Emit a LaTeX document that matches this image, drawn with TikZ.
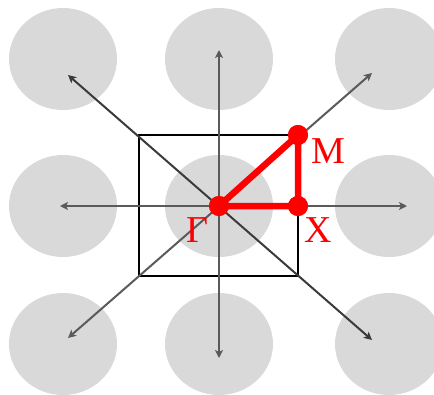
\documentclass[tikz,border=0pt]{standalone}
\usepackage{fontspec}
\setmainfont{Liberation Serif}
\usetikzlibrary{arrows.meta}
\definecolor{blob}{HTML}{D9D9D9}
\definecolor{axisgrey}{HTML}{5A5A5A}
\definecolor{axisdark}{HTML}{3A3A3A}
\definecolor{kred}{HTML}{FF0000}
\tikzset{
  site/.style={fill=blob, draw=none},
  vec/.style={line width=2pt, draw=axisgrey, {Stealth[length=8pt,width=8pt,inset=2pt]}-{Stealth[length=8pt,width=8pt,inset=2pt]}},
  vecdark/.style={vec, draw=axisdark},
  zone/.style={draw=black, line width=1.7pt},
  kpath/.style={draw=kred, line width=6.5pt},
  kpt/.style={circle, fill=kred, inner sep=0pt, minimum size=20pt},
  klabel/.style={text=kred, font=\fontsize{38}{40}\selectfont, anchor=base, inner sep=0pt}
}
\begin{document}
\begin{tikzpicture}[x=1pt,y=-1pt]
\useasboundingbox (0,0) rectangle (434,394);
\begin{scope}
\clip (0,0) rectangle (434,394);
\foreach \cx in {63,219,389}{
  \foreach \cy in {59,206,344}{
    \fill[site] (\cx,\cy) ellipse [x radius=54, y radius=51];
  }
}
\end{scope}
% zone square
\draw[zone] (139,135) rectangle (298,276);
% axes
\coordinate (T) at (219,50);
\coordinate (B) at (219,358);
\coordinate (L) at (60,206);
\coordinate (R) at (407,206);
\coordinate (NW) at (68,75);
\coordinate (SE) at (372,340);
\coordinate (NE) at (372,73);
\coordinate (SW) at (68,338);
\draw[vec] (T) -- (B);
\draw[vec] (L) -- (R);
\draw[vec] (NE) -- (SW);
\draw[vecdark] (NW) -- (SE);
% k-path
\node[kpt] (G) at (219,206) {};
\node[kpt] (X) at (298,206) {};
\node[kpt] (M) at (298,135) {};
\draw[kpath] (G.center) -- (M.center) -- (X.center) -- cycle;
\node[kpt] at (G) {};
\node[kpt] at (X) {};
\node[kpt] at (M) {};
\node[klabel] (lM) at (328,163) {M};
\node[klabel] (lX) at (318.5,242) {X};
\node[klabel] (lG) at (197,242) {Γ};
\end{tikzpicture}
\end{document}
